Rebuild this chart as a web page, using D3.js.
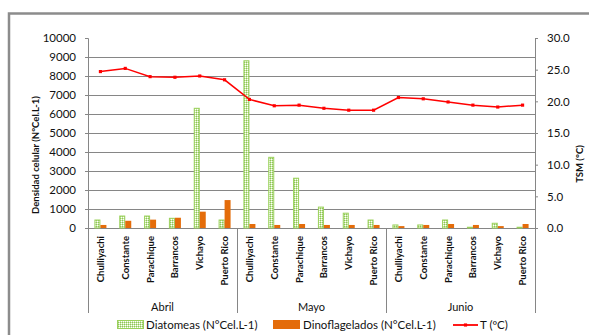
<!DOCTYPE html>
<html>
<head>
<meta charset="utf-8">
<script src="https://cdn.jsdelivr.net/npm/d3@7/dist/d3.min.js"></script>
<style>
  html, body { margin: 0; padding: 0; background: #fff; }
  svg { display: block; font-family: Lato, "Liberation Sans", sans-serif; }
</style>
</head>
<body>
<svg id="chart" width="589" height="335"></svg>
<script>
// Sampling stations, repeated for each month
const stations = ["Chulliyachi", "Constante", "Parachique", "Barrancos", "Vichayo", "Puerto Rico"];
const months = ["Abril", "Mayo", "Junio"];

// Cell density (N°Cel.L-1), in station order within each month
const diatomeas = [420, 630, 630, 510, 6300, 420,
                   8800, 3720, 2620, 1100, 780, 420,
                   160, 160, 420, 40, 250, 40];
const dinoflagelados = [160, 380, 440, 540, 860, 1470,
                        210, 160, 210, 160, 160, 160,
                        100, 160, 210, 160, 100, 210];
// Sea surface temperature (°C)
const temperatura = [24.7, 25.2, 23.9, 23.8, 24.0, 23.4,
                     20.3, 19.3, 19.4, 18.9, 18.6, 18.6,
                     20.6, 20.4, 19.9, 19.4, 19.1, 19.4];

const leftTicks = [0, 1000, 2000, 3000, 4000, 5000, 6000, 7000, 8000, 9000, 10000];
const rightTicks = [0, 5, 10, 15, 20, 25, 30];

const rows = [];
months.forEach((m, mi) => stations.forEach((s, si) => {
  const i = mi * stations.length + si;
  rows.push({ i, month: m, station: s, dia: diatomeas[i], dino: dinoflagelados[i], t: temperatura[i] });
}));

const svg = d3.select("#chart");
const plot = { left: 88, right: 535, top: 38, bottom: 228 };
const axisGray = "#868686";

// frame
svg.append("path")
  .attr("d", `M9,335 V13.5 H589`)
  .attr("fill", "none").attr("stroke", "#8c8c8c").attr("stroke-width", 2.5);

const x = d3.scaleBand().domain(rows.map(d => d.i)).range([plot.left, plot.right]).padding(0);
const y = d3.scaleLinear().domain([0, 10000]).range([plot.bottom, plot.top]);
const y2 = d3.scaleLinear().domain([0, 30]).range([plot.bottom, plot.top]);

// dotted fill for the diatom bars
const defs = svg.append("defs");
const pat = defs.append("pattern").attr("id", "dots").attr("patternUnits", "userSpaceOnUse")
  .attr("width", 2).attr("height", 2);
pat.append("rect").attr("width", 2).attr("height", 2).attr("fill", "#c9e6a4");
pat.append("rect").attr("width", 1).attr("height", 1).attr("fill", "#8cc558");
pat.append("rect").attr("x", 1).attr("y", 1).attr("width", 1).attr("height", 1).attr("fill", "#ffffff");

// gridlines
svg.append("g").selectAll("line").data(leftTicks.filter(v => v > 0 && v < 10000)).join("line")
  .attr("x1", plot.left).attr("x2", plot.right)
  .attr("y1", d => Math.round(y(d)) + 0.5).attr("y2", d => Math.round(y(d)) + 0.5)
  .attr("stroke", axisGray).attr("stroke-width", 1);

// left axis
const gl = svg.append("g").attr("transform", `translate(${plot.left},0)`)
  .call(d3.axisLeft(y).tickValues(leftTicks).tickSize(3).tickPadding(9).tickFormat(d3.format("d")));
gl.select(".domain").attr("stroke", axisGray);
gl.selectAll(".tick line").attr("stroke", axisGray);
gl.selectAll("text").attr("font-size", 11.5).attr("fill", "#111").attr("font-family", "Lato, sans-serif");

// right axis
const gr = svg.append("g").attr("transform", `translate(${plot.right},0)`)
  .call(d3.axisRight(y2).tickValues(rightTicks).tickSize(3).tickPadding(9).tickFormat(d3.format(".1f")));
gr.select(".domain").attr("stroke", axisGray);
gr.selectAll(".tick line").attr("stroke", axisGray);
gr.selectAll("text").attr("font-size", 11.5).attr("fill", "#111").attr("font-family", "Lato, sans-serif");

// category axis line
svg.append("line").attr("x1", plot.left).attr("x2", plot.right)
  .attr("y1", plot.bottom + 0.5).attr("y2", plot.bottom + 0.5).attr("stroke", axisGray);

// month separators
const sepBottom = 313;
const sepX = [0, 6, 12, 18].map(k => k < 18 ? x(k) : plot.right);
svg.append("g").selectAll("line").data(sepX).join("line")
  .attr("x1", d => Math.round(d) + 0.5).attr("x2", d => Math.round(d) + 0.5)
  .attr("y1", plot.bottom).attr("y2", sepBottom)
  .attr("stroke", axisGray);

// bars
const bw = 6;
svg.append("g").selectAll("rect").data(rows).join("rect")
  .attr("x", d => x(d.i) + x.bandwidth() / 2 - bw + 0.5)
  .attr("y", d => y(d.dia))
  .attr("width", bw - 1)
  .attr("height", d => plot.bottom - y(d.dia))
  .attr("fill", "url(#dots)")
  .attr("stroke", "#9bd15c").attr("stroke-width", 1);

svg.append("g").selectAll("rect").data(rows).join("rect")
  .attr("x", d => x(d.i) + x.bandwidth() / 2)
  .attr("y", d => y(d.dino))
  .attr("width", bw)
  .attr("height", d => plot.bottom - y(d.dino))
  .attr("fill", "#e46c0a");

// temperature line
const cx = d => x(d.i) + x.bandwidth() / 2;
svg.append("path").datum(rows)
  .attr("d", d3.line().x(cx).y(d => y2(d.t)))
  .attr("fill", "none").attr("stroke", "#ff0000").attr("stroke-width", 1.5);
svg.append("g").selectAll("path").data(rows).join("path")
  .attr("transform", d => `translate(${cx(d)},${y2(d.t)})`)
  .attr("d", d3.symbol(d3.symbolSquare, 10))
  .attr("fill", "#ff0000");

// station labels
svg.append("g").selectAll("text").data(rows).join("text")
  .attr("transform", d => `translate(${cx(d) + 3.5},236) rotate(-90)`)
  .attr("text-anchor", "end")
  .attr("font-size", 9.5).attr("font-weight", "bold").attr("fill", "#111")
  .text(d => d.station);

// month labels
svg.append("g").selectAll("text").data(months).join("text")
  .attr("x", (m, k) => (x(k * 6) + (k < 2 ? x(k * 6 + 6) : plot.right)) / 2)
  .attr("y", 311)
  .attr("text-anchor", "middle").attr("font-size", 11).attr("fill", "#111")
  .text(d => d);

// axis titles
svg.append("text")
  .attr("transform", `translate(39,155) rotate(-90)`)
  .attr("text-anchor", "middle").attr("font-size", 9.5).attr("font-weight", "bold").attr("fill", "#111")
  .text("Densidad celular (N°Cel.L-1)");
svg.append("text")
  .attr("transform", `translate(583,164) rotate(-90)`)
  .attr("text-anchor", "middle").attr("font-size", 9.5).attr("font-weight", "bold").attr("fill", "#111")
  .text("TSM (°C)");

// legend
const lg = svg.append("g").attr("font-size", 11.5).attr("fill", "#111");
lg.append("rect").attr("x", 117.5).attr("y", 320.5).attr("width", 26).attr("height", 8)
  .attr("fill", "url(#dots)").attr("stroke", "#9bd15c");
lg.append("text").attr("x", 146).attr("y", 329).text("Diatomeas (N°Cel.L-1)");
lg.append("rect").attr("x", 273).attr("y", 320).attr("width", 27).attr("height", 9).attr("fill", "#e46c0a");
lg.append("text").attr("x", 303).attr("y", 329).text("Dinoflagelados (N°Cel.L-1)");
lg.append("line").attr("x1", 453).attr("x2", 478).attr("y1", 325).attr("y2", 325)
  .attr("stroke", "#ff0000").attr("stroke-width", 1.8);
lg.append("path").attr("transform", "translate(465.5,325)").attr("d", d3.symbol(d3.symbolSquare, 10)).attr("fill", "#ff0000");
lg.append("text").attr("x", 480).attr("y", 329).text("T (ºC)");
</script>
</body>
</html>
